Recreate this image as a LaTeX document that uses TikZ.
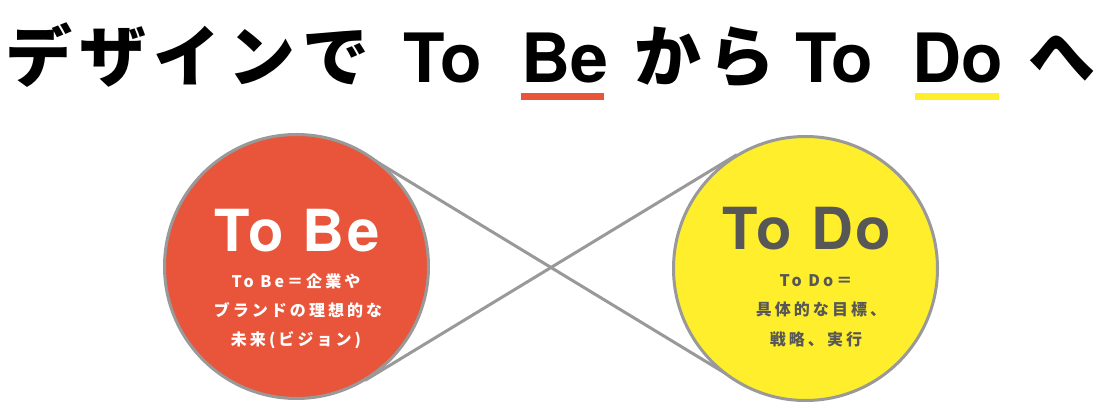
\documentclass[tikz,border=0pt]{standalone}
\usepackage{fontspec}
\setmainfont{TeX Gyre Heros}
\newfontfamily\jp{Noto Sans CJK JP}
\definecolor{tbred}{HTML}{E8553B}
\definecolor{tdyellow}{HTML}{FFEE2B}
\definecolor{ringgray}{HTML}{999999}
\definecolor{inkgray}{HTML}{575757}
\tikzset{
  ring/.style={circle, draw=ringgray, line width=3pt, minimum size=264pt, inner sep=0pt, outer sep=0pt},
  crossline/.style={draw=ringgray, line width=3pt},
  titlejp/.style={inner sep=0pt, anchor=base west, font=\jp\bfseries\fontsize{67}{67}\selectfont\addfontfeature{LetterSpace=11}},
  titlelat/.style={inner sep=0pt, anchor=base, font=\bfseries\fontsize{68}{68}\selectfont},
  bigword/.style={inner sep=0pt, anchor=base, font=\bfseries\fontsize{58}{58}\selectfont\addfontfeature{LetterSpace=5}},
  subline/.style={inner sep=0pt, anchor=base, font=\jp\bfseries\fontsize{16}{16}\selectfont\addfontfeature{LetterSpace=19}},
}
\begin{document}
\begin{tikzpicture}[x=1pt,y=-1pt]
\useasboundingbox (0,0) rectangle (1101,419);
% title
\node[titlejp] (t1) at (5,82) {デザインで};
\node[titlelat] (t2) at (442.5,83) {To};
\node[titlelat] (t3) at (564.5,83) {Be};
\node[titlejp] (t4) at (634,82) {から};
\node[titlelat] (t5) at (834,83) {To};
\node[titlelat] (t6) at (957.5,83) {Do};
\node[titlejp, anchor=base] (t7) at (1062,82) {へ};
\fill[tbred] (521,93) rectangle (604,100);
\fill[tdyellow] (915,93) rectangle (999,100);
% tangent points
\coordinate (a1) at (365,154.6);
\coordinate (a2) at (365,380.4);
\coordinate (b1) at (737,154.6);
\coordinate (b2) at (737,380.4);
\draw[crossline] (a1) -- (b2);
\draw[crossline] (a2) -- (b1);
% circles
\node[ring, fill=tbred] (tobe) at (296.5,266.5) {};
\node[ring, fill=tdyellow] (todo) at (805.5,268.5) {};
% left texts
\node[bigword, text=white] (tobeh) at (297,252) {To Be};
\node[subline, text=white] (tobe1) at (296,288) {To Be＝企業や};
\node[subline, text=white] (tobe2) at (298,317) {ブランドの理想的な};
\node[subline, text=white] (tobe3) at (296,346) {未来(ビジョン)};
% right texts
\node[bigword, text=inkgray] (todoh) at (807,250) {To Do};
\node[subline, text=inkgray] (todo1) at (816,287) {To Do＝};
\node[subline, text=inkgray] (todo2) at (821,316) {具体的な目標、};
\node[subline, text=inkgray] (todo3) at (816,346) {戦略、実行};
\end{tikzpicture}
\end{document}
